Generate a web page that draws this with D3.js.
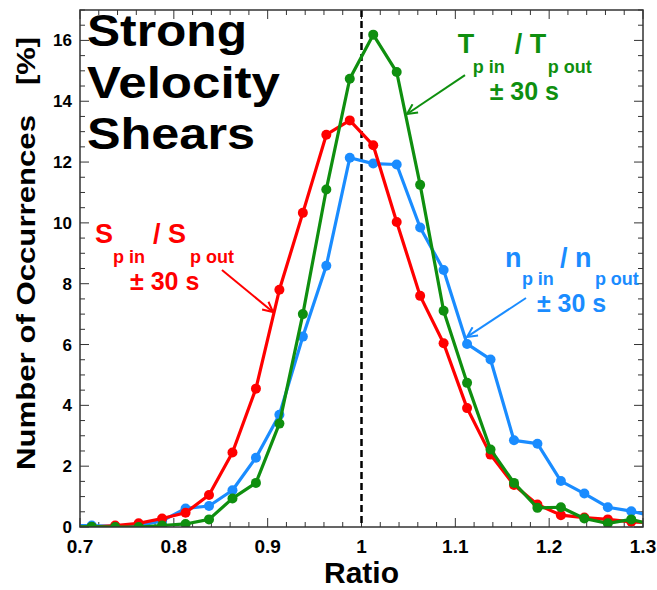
<!DOCTYPE html>
<html>
<head>
<meta charset="utf-8">
<script src="https://cdn.jsdelivr.net/npm/d3@7"></script>
<style>
  body { margin: 0; background: #fff; }
  text { font-family: "Liberation Sans", Arial, sans-serif; font-weight: bold; }
</style>
</head>
<body>
<div id="chart"></div>
<script>
// bin centres (ratio), incl. one bin each side so lines run off the frame
const ratio = [0.6875, 0.7125, 0.7375, 0.7625, 0.7875, 0.8125, 0.8375, 0.8625, 0.8875, 0.9125,
  0.9375, 0.9625, 0.9875, 1.0125, 1.0375, 1.0625, 1.0875, 1.1125, 1.1375, 1.1625,
  1.1875, 1.2125, 1.2375, 1.2625, 1.2875, 1.3125];

// S_p in / S_p out  (red)
const sRatio = [0, 0.0, 0.05, 0.12, 0.28, 0.47, 1.05, 2.45, 4.55, 7.8,
  10.33, 12.9, 13.37, 12.55, 10.03, 7.6, 6.04, 3.91, 2.38, 1.38,
  0.74, 0.39, 0.31, 0.25, 0.17, 0.13];

// T_p in / T_p out  (green)
const tRatio = [0, 0.01, 0.0, 0.0, 0.05, 0.1, 0.25, 0.94, 1.45, 3.4,
  7.0, 11.1, 14.74, 16.19, 14.96, 11.25, 7.11, 4.74, 2.55, 1.45,
  0.63, 0.65, 0.28, 0.12, 0.25, 0.05];

// n_p in / n_p out  (blue)
const nRatio = [0.05, 0.05, 0.02, 0.05, 0.2, 0.61, 0.69, 1.21, 2.28, 3.69,
  6.26, 8.59, 12.14, 11.95, 11.92, 9.85, 8.45, 6.02, 5.51, 2.85,
  2.74, 1.51, 1.1, 0.65, 0.52, 0.34];

const xTicks = [0.7, 0.8, 0.9, 1.0, 1.1, 1.2, 1.3];
const yTicks = [0, 2, 4, 6, 8, 10, 12, 14, 16];

const W = 657, H = 590;
const margin = { top: 10, right: 14, bottom: 63, left: 80 };
const width = W - margin.left - margin.right;
const height = H - margin.top - margin.bottom;

const svg = d3.select("#chart").append("svg")
  .attr("width", W).attr("height", H);

const g = svg.append("g").attr("transform", `translate(${margin.left},${margin.top})`);

const x = d3.scaleLinear().domain([0.7, 1.3]).range([0, width]);
const y = d3.scaleLinear().domain([0, 17]).range([height, 0]);

svg.append("defs").append("clipPath").attr("id", "clip")
  .append("rect").attr("width", width).attr("height", height);

// arrow heads
const defs = svg.select("defs");
[["red", "#ff0000"], ["green", "#0f8f0f"], ["blue", "#1a8cff"]].forEach(([k, c]) => {
  defs.append("marker").attr("id", "arr-" + k)
    .attr("viewBox", "0 0 12 12").attr("refX", 11).attr("refY", 6)
    .attr("markerWidth", 12).attr("markerHeight", 12)
    .attr("markerUnits", "userSpaceOnUse").attr("orient", "auto")
    .append("path").attr("d", "M1,1 L11,6 L1,11")
    .attr("fill", "none").attr("stroke", c).attr("stroke-width", 2);
});

// ticks (inward, on all four sides)
const frame = "#333";
const xMinor = d3.range(0.7, 1.3001, 0.02);
const yMinor = d3.range(0, 17.001, 0.5);
const tk = g.append("g").attr("stroke", frame).attr("stroke-width", 1);
xMinor.forEach(v => {
  const major = xTicks.some(t => Math.abs(t - v) < 1e-6);
  const L = major ? 9 : 5;
  tk.append("line").attr("x1", x(v)).attr("x2", x(v)).attr("y1", height).attr("y2", height - L);
  tk.append("line").attr("x1", x(v)).attr("x2", x(v)).attr("y1", 0).attr("y2", L);
});
yMinor.forEach(v => {
  const major = yTicks.some(t => Math.abs(t - v) < 1e-6);
  const L = major ? 9 : 5;
  tk.append("line").attr("y1", y(v)).attr("y2", y(v)).attr("x1", 0).attr("x2", L);
  tk.append("line").attr("y1", y(v)).attr("y2", y(v)).attr("x1", width).attr("x2", width - L);
});

// tick labels
g.selectAll(".xl").data(xTicks).join("text")
  .attr("x", d => x(d)).attr("y", height + 26)
  .attr("text-anchor", "middle").attr("font-size", 19)
  .text(d => d3.format("")(+d.toFixed(1)));
g.selectAll(".yl").data(yTicks).join("text")
  .attr("x", -8).attr("y", d => y(d) + 6)
  .attr("text-anchor", "end").attr("font-size", 17)
  .text(d => d);

// axis titles
g.append("text").attr("x", x(1.0)).attr("y", height + 56)
  .attr("text-anchor", "middle").attr("font-size", 30).text("Ratio");
svg.append("text").attr("transform", "translate(35,470) rotate(-90)")
  .attr("font-size", 26).attr("textLength", 355).attr("lengthAdjust", "spacingAndGlyphs")
  .text("Number of Occurrences");
svg.append("text").attr("transform", "translate(35,85) rotate(-90)")
  .attr("font-size", 26).attr("textLength", 48).attr("lengthAdjust", "spacingAndGlyphs")
  .text("[%]");

// dashed line at ratio = 1
g.append("line").attr("x1", x(1)).attr("x2", x(1)).attr("y1", 0).attr("y2", height)
  .attr("stroke", "#000").attr("stroke-width", 2.5).attr("stroke-dasharray", "7,4");

// series
const series = [
  { vals: nRatio, color: "#1a8cff" },
  { vals: sRatio, color: "#ff0000" },
  { vals: tRatio, color: "#0f8f0f" }
];
const line = d3.line().x((d, i) => x(ratio[i])).y(d => y(d));
const plot = g.append("g").attr("clip-path", "url(#clip)");
series.forEach(s => {
  plot.append("path").datum(s.vals).attr("d", line)
    .attr("fill", "none").attr("stroke", s.color).attr("stroke-width", 3.2)
    .attr("stroke-linejoin", "round");
  plot.selectAll(null).data(s.vals).join("circle")
    .attr("cx", (d, i) => x(ratio[i])).attr("cy", d => y(d))
    .attr("r", 5).attr("fill", s.color);
});

// frame
g.append("rect").attr("width", width).attr("height", height)
  .attr("fill", "none").attr("stroke", frame).attr("stroke-width", 1.5);

// title
const title = ["Strong", "Velocity", "Shears"];
const titleLen = [160, 193, 168];
title.forEach((t, i) => {
  svg.append("text").attr("x", 87).attr("y", 46 + i * 51.5)
    .attr("font-size", 45).attr("textLength", titleLen[i]).attr("lengthAdjust", "spacingAndGlyphs")
    .text(t);
});

// labels with arrows (anchor in data coords)
const labels = [
  { main: "S", color: "#ff0000", key: "red", ax: 0.716, ay: 9.35, pin: 18, slash: 58, out: 95, pm: 35, sub: 20, pmY: 47,
    from: [0.8513, 8.45], to: [0.9057, 7.07] },
  { main: "T", color: "#0f8f0f", key: "green", ax: 1.1025, ay: 15.6, pin: 15, slash: 57, out: 90, pm: 32, sub: 20, pmY: 47,
    from: [1.1103, 14.86], to: [1.0485, 13.58] },
  { main: "n", color: "#1a8cff", key: "blue", ax: 1.1528, ay: 8.55, pin: 17, slash: 55, out: 90, pm: 32, sub: 18, pmY: 45,
    from: [1.1753, 7.53], to: [1.1124, 6.25] }
];
labels.forEach(l => {
  const lx = x(l.ax), ly = y(l.ay);
  const lg = g.append("g").attr("fill", l.color);
  lg.append("text").attr("x", lx).attr("y", ly).attr("font-size", 27).text(l.main);
  lg.append("text").attr("x", lx + l.pin).attr("y", ly + l.sub).attr("font-size", 18).text("p in");
  lg.append("text").attr("x", lx + l.slash).attr("y", ly).attr("font-size", 27).text("/ " + l.main);
  lg.append("text").attr("x", lx + l.out).attr("y", ly + l.sub).attr("font-size", 18).text("p out");
  lg.append("text").attr("x", lx + l.pm).attr("y", ly + l.pmY).attr("font-size", 25).text("\u00b1 30 s");
  g.append("line")
    .attr("x1", x(l.from[0])).attr("y1", y(l.from[1]))
    .attr("x2", x(l.to[0])).attr("y2", y(l.to[1]))
    .attr("stroke", l.color).attr("stroke-width", 2)
    .attr("marker-end", `url(#arr-${l.key})`);
});
</script>
</body>
</html>
